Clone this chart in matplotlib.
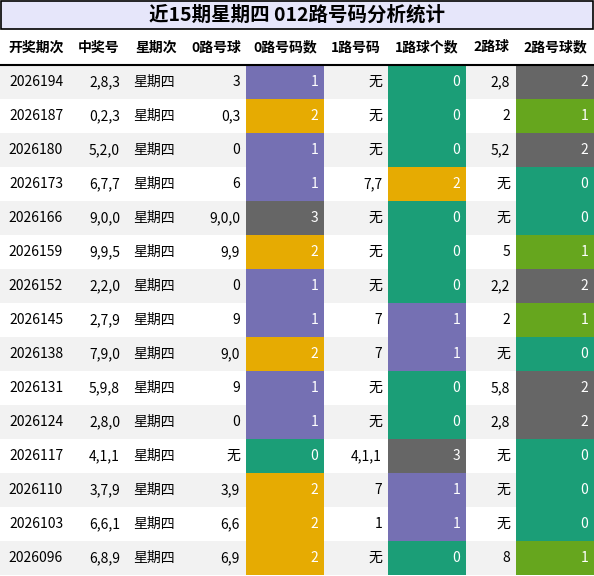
import matplotlib.pyplot as plt
from matplotlib.patches import Rectangle

plt.rcParams['font.family'] = ['Noto Sans CJK SC', 'DejaVu Sans']

title = '近15期星期四 012路号码分析统计'
headers = ['开奖期次', '中奖号', '星期次', '0路号球', '0路号码数', '1路号码', '1路球个数', '2路球', '2路号球数']
periods = ['2026194', '2026187', '2026180', '2026173', '2026166', '2026159', '2026152', '2026145',
           '2026138', '2026131', '2026124', '2026117', '2026110', '2026103', '2026096']
numbers = ['2,8,3', '0,2,3', '5,2,0', '6,7,7', '9,0,0', '9,9,5', '2,2,0', '2,7,9',
           '7,9,0', '5,9,8', '2,8,0', '4,1,1', '3,7,9', '6,6,1', '6,8,9']
weekday = ['星期四'] * 15
r0_balls = ['3', '0,3', '0', '6', '9,0,0', '9,9', '0', '9', '9,0', '9', '0', '无', '3,9', '6,6', '6,9']
r0_count = [1, 2, 1, 1, 3, 2, 1, 1, 2, 1, 1, 0, 2, 2, 2]
r1_balls = ['无', '无', '无', '7,7', '无', '无', '无', '7', '7', '无', '无', '4,1,1', '7', '1', '无']
r1_count = [0, 0, 0, 2, 0, 0, 0, 1, 1, 0, 0, 3, 1, 1, 0]
r2_balls = ['2,8', '2', '5,2', '无', '无', '5', '2,2', '2', '无', '5,8', '2,8', '无', '无', '无', '8']
r2_count = [2, 1, 2, 0, 0, 1, 2, 1, 0, 2, 2, 0, 0, 0, 1]

purple, orange, teal, gray, green = '#7570b3', '#e6ab02', '#1b9e77', '#666666', '#66a61e'
cmap_01 = {0: teal, 1: purple, 2: orange, 3: gray}
cmap_2 = {0: teal, 1: green, 2: gray}

# column edges in pixels
edges = [0, 72, 126, 186, 246, 324, 388, 466, 516, 594]
top, head_h, row_h = 30, 35, 34

fig = plt.figure(figsize=(5.94, 5.76), dpi=100)
ax = fig.add_axes([0, 0, 1, 1])
ax.set_xlim(0, 594)
ax.set_ylim(576, 0)
ax.axis('off')

ax.add_patch(Rectangle((1, 1), 592, 28, facecolor='#e6e6fa', edgecolor='black', lw=1.2))
ax.text(297, 15, title, ha='center', va='center', fontsize=14, fontweight='bold')

for i, h in enumerate(headers):
    ax.text((edges[i] + edges[i + 1]) / 2, top + head_h / 2, h, ha='center', va='center',
            fontsize=10, fontweight='bold')
ax.plot([0, 594], [top + head_h, top + head_h], color='black', lw=1.5)

for r in range(15):
    y0 = top + head_h + r * row_h
    yc = y0 + row_h / 2
    if r % 2 == 0:
        ax.add_patch(Rectangle((0, y0), 594, row_h, facecolor='#f2f2f2', lw=0))
    for c, cm, val in [(4, cmap_01, r0_count[r]), (6, cmap_01, r1_count[r]), (8, cmap_2, r2_count[r])]:
        ax.add_patch(Rectangle((edges[c], y0), edges[c + 1] - edges[c], row_h, facecolor=cm[val], lw=0))
        ax.text(edges[c + 1] - 6, yc, str(val), ha='right', va='center', fontsize=10, color='white')
    ax.text(36, yc, periods[r], ha='center', va='center', fontsize=10)
    ax.text(120, yc, numbers[r], ha='right', va='center', fontsize=10)
    ax.text(133, yc, weekday[r], ha='left', va='center', fontsize=10)
    ax.text(240, yc, r0_balls[r], ha='right', va='center', fontsize=10)
    ax.text(382, yc, r1_balls[r], ha='right', va='center', fontsize=10)
    ax.text(510, yc, r2_balls[r], ha='right', va='center', fontsize=10)

fig.savefig('out.png', dpi=100)
